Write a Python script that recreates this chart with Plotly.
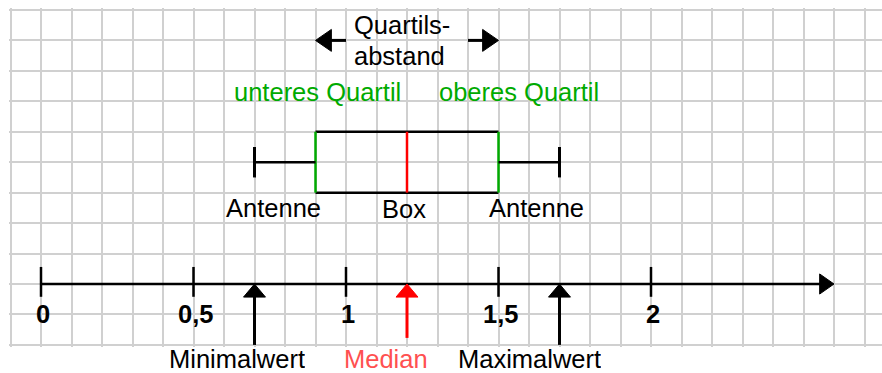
import plotly.graph_objects as go

# ---- data ----
stat_names = ["Minimalwert", "unteres Quartil", "Median", "oberes Quartil", "Maximalwert"]
stat_values = [0.7, 0.9, 1.2, 1.5, 1.7]
tick_values = [0, 0.5, 1, 1.5, 2]
tick_labels = ["0", "0,5", "1", "1,5", "2"]
axis_end = 2.6

vmin, q1, med, q3, vmax = stat_values

BLACK = "#000000"
GREEN = "#00aa00"
RED = "#ff0000"
LRED = "#ff5050"
FONT = "Liberation Sans, Arial, sans-serif"
FS = 25.5

fig = go.Figure()
# invisible trace to establish axes
fig.add_trace(go.Scatter(x=[0, 2], y=[0, 0], mode="markers", marker=dict(opacity=0), hoverinfo="skip", showlegend=False))

shapes = []
def line(x0, y0, x1, y1, color=BLACK, w=2.5):
    shapes.append(dict(type="line", x0=x0, y0=y0, x1=x1, y1=y1, xref="x", yref="y",
                       line=dict(color=color, width=w), layer="above"))

def tri(path, color=BLACK):
    shapes.append(dict(type="path", path=path, xref="x", yref="y", fillcolor=color,
                       line=dict(color=color, width=1), layer="above"))

# number line
line(0, 0, axis_end - 0.04, 0)
tri(f"M {axis_end},0 L {axis_end-0.047},0.33 L {axis_end-0.047},-0.33 Z")
for t in tick_values:
    line(t, -0.42, t, 0.56)

# box
line(q1, 5, q3, 5)
line(q1, 3, q3, 3)
line(q1, 3, q1, 5, GREEN)
line(q3, 3, q3, 5, GREEN)
line(med, 3, med, 5, RED)
# whiskers
line(vmin, 4, q1, 4)
line(q3, 4, vmax, 4)
line(vmin, 3.5, vmin, 4.5, w=3)
line(vmax, 3.5, vmax, 4.5, w=3)

# up arrows below axis
for v, col, y_end in [(vmin, BLACK, -2.0), (med, RED, -1.77), (vmax, BLACK, -2.0)]:
    line(v, -0.4, v, y_end, col, w=3)
    tri(f"M {v},0 L {v-0.036},-0.43 L {v+0.036},-0.43 Z", col)

# Quartilsabstand arrows
line(q1 + 0.04, 8, q1 + 0.1, 8, w=3)
tri(f"M {q1},8 L {q1+0.052},8.36 L {q1+0.052},7.64 Z")
line(q3 - 0.1, 8, q3 - 0.04, 8, w=3)
tri(f"M {q3},8 L {q3-0.052},8.36 L {q3-0.052},7.64 Z")

annotations = []
def txt(x, y, s, color=BLACK, bold=False, xanchor="center", yref="y", **kw):
    annotations.append(dict(x=x, y=y, xref="x", yref=yref, text=f"<b>{s}</b>" if bold else s,
                            showarrow=False, xanchor=xanchor, yanchor="middle",
                            font=dict(family=FONT, size=FS, color=color), **kw))

for t, lab in zip(tick_values, tick_labels):
    txt(t + 0.005, -1.0, lab, bold=True)

txt(1.02, 8.5, "Quartils-", xanchor="left")
txt(1.02, 7.49, "abstand", xanchor="left")
txt(q1 + 0.007, 6.32, stat_names[1], GREEN)
txt(q3 + 0.067, 6.32, stat_names[3], GREEN)
txt(0.761, 2.5, "Antenne")
txt(1.19, 2.45, "Box")
txt(1.626, 2.5, "Antenne")
txt(0.644, -0.034, stat_names[0], yref="paper", height=20, borderpad=0)
txt(1.131, -0.034, stat_names[2], LRED, yref="paper", height=20, borderpad=0)
txt(1.603, -0.034, stat_names[4], yref="paper", height=20, borderpad=0)

W, H = 882, 373
ml, mr, mt, mb = 9, 0, 8, 26
px0, pxu = 41, 305.0
pyax, pyu = 284, 30.45
xr = [(ml - px0) / pxu, (W - mr - px0) / pxu]
yr = [(pyax - (H - mb)) / pyu, (pyax - mt) / pyu]

fig.update_layout(
    width=W, height=H,
    margin=dict(l=ml, r=mr, t=mt, b=mb),
    plot_bgcolor="white", paper_bgcolor="white",
    shapes=shapes, annotations=annotations,
    xaxis=dict(range=xr, showgrid=True, gridcolor="#d0d0d0", gridwidth=1.5, dtick=0.1, tick0=0,
               showticklabels=False, zeroline=False, showline=False, ticks="", fixedrange=True),
    yaxis=dict(range=yr, showgrid=True, gridcolor="#d0d0d0", gridwidth=1.5, dtick=1, tick0=0,
               showticklabels=False, zeroline=False, showline=False, ticks="", fixedrange=True),
    showlegend=False,
)
fig.write_html("out.html", config={"displayModeBar": False},
               post_script="document.body.style.margin='0px';document.body.style.overflow='hidden';")
